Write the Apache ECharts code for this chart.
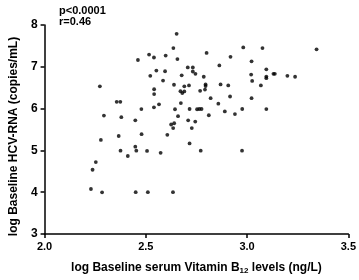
<!DOCTYPE html>
<html>
<head>
<meta charset="utf-8">
<script src="https://cdn.jsdelivr.net/npm/echarts@6/dist/echarts.min.js"></script>
<style>html,body{margin:0;padding:0;background:#fff}#c{width:359px;height:280px}</style>
</head>
<body>
<div id="c"></div>
<script>
// log Baseline serum Vitamin B12 levels (x) and log Baseline HCV-RNA (y)
var xValues = [
  2.652,2.636,2.516,2.540,2.598,2.461,2.656,2.552,2.595,2.707,2.732,2.732,2.522,2.677,2.585,2.273,2.639,2.541,2.541,2.690,2.713,2.671,2.680,2.690,2.356,2.374,2.565,2.673,
  2.800,2.981,3.076,3.343,2.918,3.022,2.863,2.745,2.786,3.020,3.095,3.130,3.137,3.095,3.095,3.199,3.237,3.025,2.795,2.795,2.869,2.907,3.068,2.768,2.792,2.820,2.916,3.022,2.858,
  2.478,2.540,2.644,2.716,2.753,2.764,2.775,2.890,2.976,3.095,2.811,2.940,2.293,2.379,2.448,2.659,2.625,2.640,2.635,2.709,2.744,2.727,2.278,2.366,2.479,2.606,2.716,2.771,2.975,2.375,2.448,2.453,2.506,2.573,2.411,2.253,2.237,2.229,2.284,2.450,2.510,2.634
];
var yValues = [
  7.79,7.447,7.292,7.223,7.269,7.163,7.186,6.910,6.894,6.986,6.986,6.887,6.785,6.795,6.670,6.532,6.571,6.463,6.348,6.532,6.555,6.417,6.371,6.410,6.163,6.163,6.103,6.133,
  7.332,7.463,7.447,7.417,7.239,7.131,7.032,6.832,6.762,6.813,6.940,6.832,6.832,6.767,6.728,6.785,6.762,6.663,6.578,6.541,6.578,6.555,6.555,6.426,6.456,6.249,6.290,6.249,6.117,
  5.988,6.030,5.984,5.991,5.984,5.991,5.991,5.933,5.991,5.988,5.841,5.868,5.834,5.795,5.719,5.818,5.620,5.650,5.534,5.719,5.689,5.534,5.251,5.345,5.389,5.373,5.166,4.993,4.993,4.993,5.090,4.993,4.988,4.942,4.866,4.721,4.537,4.076,3.998,4.0,4.0,4.0
];
var statsLines = ['p<0.0001', 'r=0.46'];
var xTitle = 'log Baseline serum Vitamin B{sub|12} levels (ng/L)';
var yTitle = 'log Baseline HCV-RNA (copies/mL)';

var points = xValues.map(function (x, i) { return [x, yValues[i]]; });
var font = 'Liberation Sans, Arial, sans-serif';
var chart = echarts.init(document.getElementById('c'), null, {renderer: 'canvas'});
chart.setOption({
  animation: false,
  backgroundColor: '#fff',
  title: {
    text: statsLines.join('\n'),
    left: 54, top: 0,
    textStyle: {fontFamily: font, fontSize: 11, fontWeight: 'bold', color: '#000', lineHeight: 11}
  },
  grid: {left: 34, right: 8, top: 25, bottom: 38},
  xAxis: {
    type: 'value', min: 2.0, max: 3.5, interval: 0.5,
    name: xTitle, nameLocation: 'middle', nameGap: 26,
    nameTextStyle: {fontFamily: font, fontSize: 12, fontWeight: 'bold', color: '#000',
      rich: {sub: {fontFamily: font, fontSize: 8, fontWeight: 'bold', color: '#000', padding: [7, 0, 0, 0]}}},
    axisLine: {show: true, onZero: false, lineStyle: {color: '#000', width: 1.5}},
    axisTick: {show: true, length: 4, lineStyle: {color: '#000', width: 1.5}},
    axisLabel: {margin: 7, fontFamily: font, fontSize: 11, fontWeight: 'bold', color: '#000',
      formatter: function (v) { return v.toFixed(1); }},
    splitLine: {show: false}
  },
  yAxis: {
    type: 'value', min: 3, max: 8, interval: 1,
    name: yTitle, nameLocation: 'middle', nameGap: 22,
    nameTextStyle: {fontFamily: font, fontSize: 12, fontWeight: 'bold', color: '#000', padding: [0, 14, 0, 0]},
    axisLine: {show: true, onZero: false, lineStyle: {color: '#000', width: 1.5}},
    axisTick: {show: true, length: 4, lineStyle: {color: '#000', width: 1.5}},
    axisLabel: {margin: 7, fontFamily: font, fontSize: 12, fontWeight: 'bold', color: '#000'},
    splitLine: {show: false}
  },
  series: [{
    type: 'scatter',
    data: points,
    symbol: 'circle',
    symbolSize: 3.8,
    itemStyle: {color: '#000'}
  }]
});
</script>
</body>
</html>
